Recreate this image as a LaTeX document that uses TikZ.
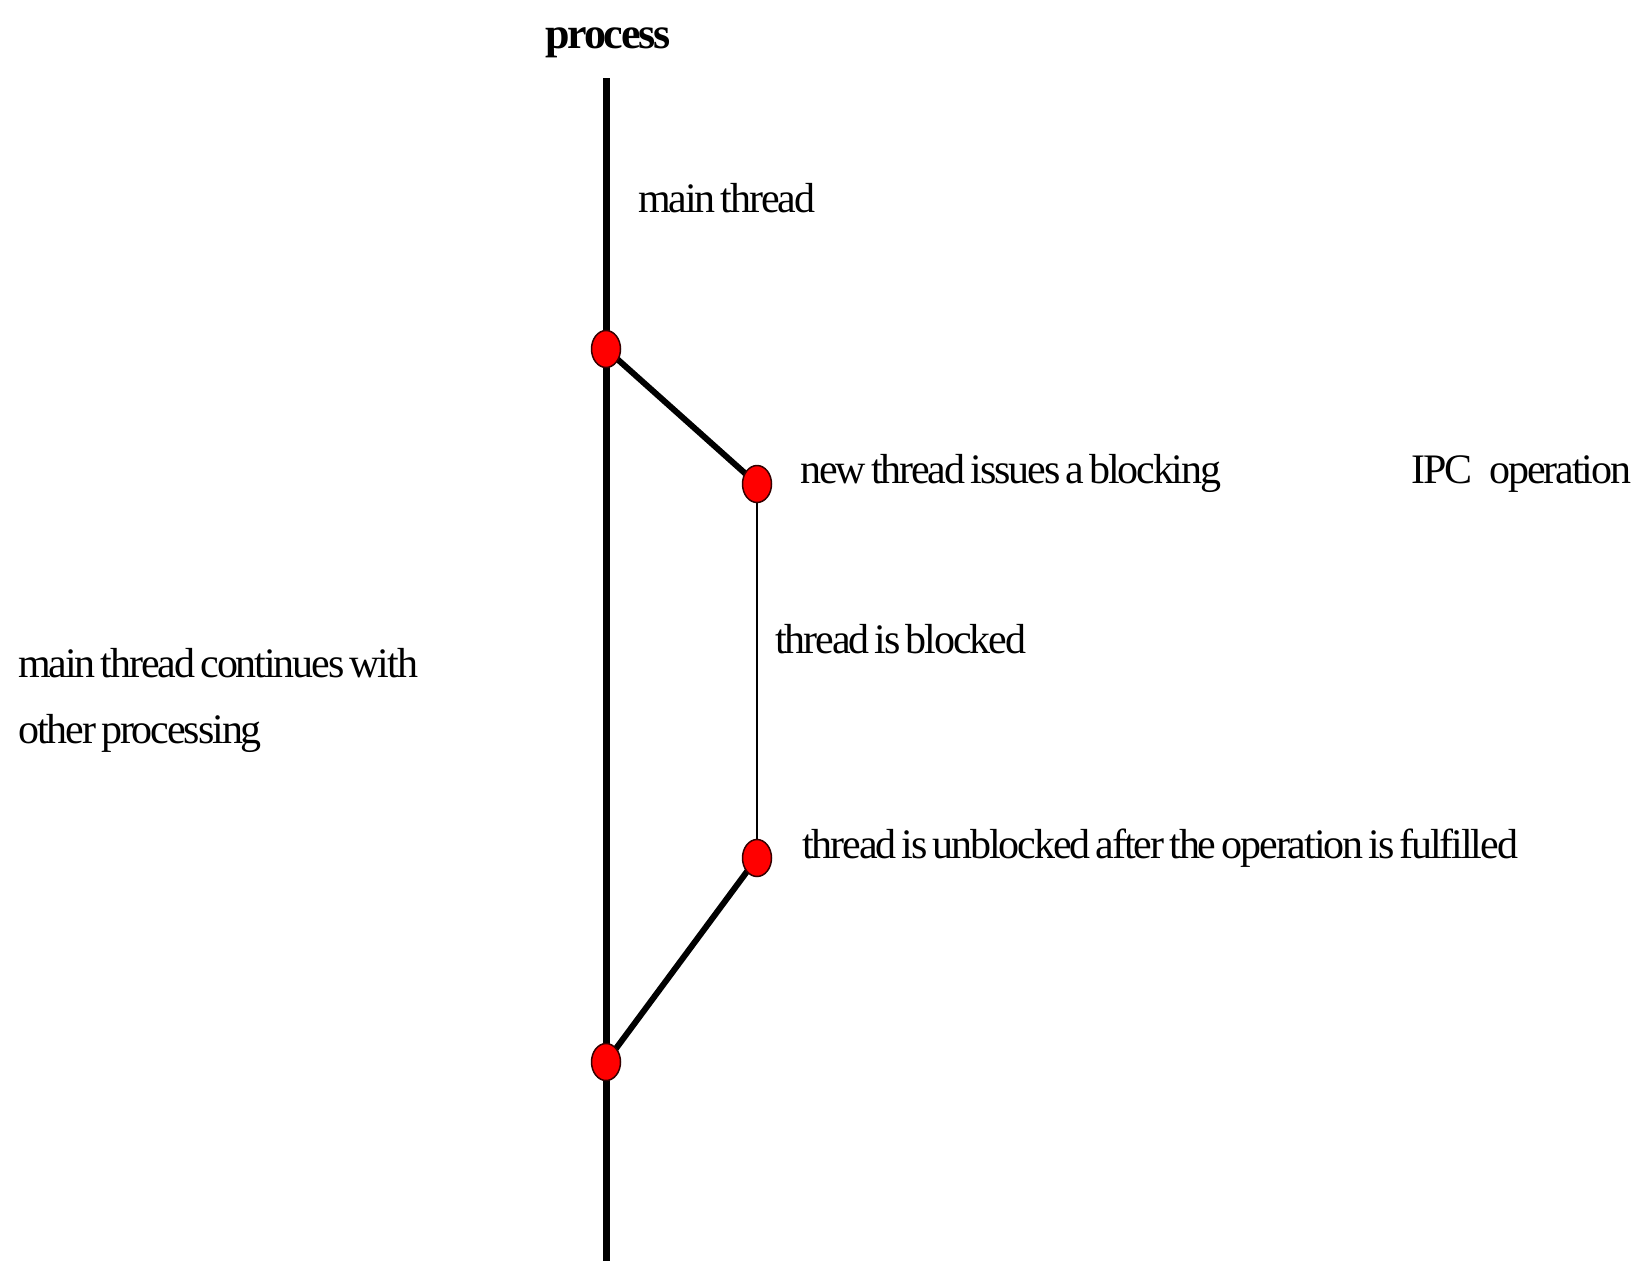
\documentclass[tikz,border=0pt]{standalone}
\usepackage{fontspec}
\newfontfamily\labelfont{Liberation Serif}[LetterSpace=-5,WordSpace=0.6]
\usetikzlibrary{shapes.geometric}

\begin{document}
\begin{tikzpicture}[x=1pt, y=-1pt]
  \tikzset{
    event/.style={ellipse, draw=black!80!red, line width=1.5pt, fill=red,
      minimum width=29pt, minimum height=37pt, inner sep=0pt},
    thick line/.style={line width=7pt},
    thin line/.style={line width=1.5pt},
    note/.style={font=\labelfont\fontsize{42}{66}\selectfont, anchor=base west,
      inner sep=0pt, align=left}
  }
  \useasboundingbox (0,0) rectangle (1646,1261);
  \node[note, font=\labelfont\bfseries\fontsize{44}{50}\selectfont] (title) at (545,48) {process};
  \coordinate (top) at (606,78);
  \coordinate (bottom) at (606,1261);
  \coordinate (fork) at (606,349);
  \coordinate (block) at (757,484);
  \coordinate (wake) at (757,858);
  \coordinate (join) at (606,1062);
  \draw[thick line] (top) -- (bottom);
  \draw[line width=6pt] (fork) -- (block);
  \draw[thin line] (block) -- (wake);
  \draw[line width=6pt] (wake) -- (join);
  \node[event] (forkdot) at (fork) {};
  \node[event] (blockdot) at (block) {};
  \node[event] (wakedot) at (wake) {};
  \node[event] (joindot) at (join) {};
  % labels
  \node[note] (mainlbl) at (638,212) {main thread};
  \node[note] (issuelbl) at (800,483) {new thread issues a blocking};
  \node[note] (ipclbl) at (1411,483) {IPC\hspace{12pt} operation};
  \node[note] (blockedlbl) at (775,653) {thread is blocked};
  \node[note] (otherlbl) at (18,743) {main thread continues with\\other processing};
  \node[note] (unblocklbl) at (802,858) {thread is unblocked after the operation is fulfilled};
\end{tikzpicture}
\end{document}
